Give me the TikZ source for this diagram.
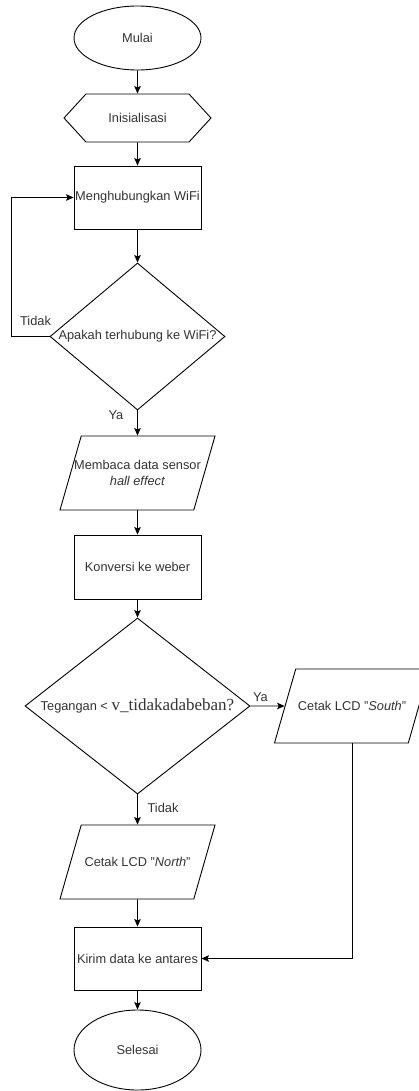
\documentclass[tikz,border=0pt]{standalone}
\usepackage{fontspec}
\setmainfont{Liberation Sans}
\newfontfamily\timesfont{Liberation Serif}
\usetikzlibrary{arrows.meta,shapes.geometric,shapes.symbols}

\begin{document}
\begin{tikzpicture}[>={Stealth[length=7.5pt,width=6.5pt,inset=1.5pt]},x=1pt,y=1pt,line width=0.9pt,
    font=\fontsize{12.8}{16}\selectfont]
  \tikzstyle{every node}=[text=black!80]
  \tikzstyle{terminal}=[ellipse,draw,minimum width=127pt,inner sep=0pt]
  \tikzstyle{prep}=[signal,signal to=west and east,signal pointer angle=95,draw,
    minimum width=147pt,minimum height=48pt,inner sep=0pt]
  \tikzstyle{process}=[rectangle,draw,minimum width=127pt,minimum height=63pt,inner sep=0pt]
  \tikzstyle{decision}=[diamond,draw,inner sep=0pt]
  \tikzstyle{io}=[trapezium,trapezium left angle=74,trapezium right angle=106,
    trapezium stretches body=true,draw,minimum width=155pt,
    text height=41.6pt,text depth=32.4pt,inner sep=0pt,align=center]

  \useasboundingbox (0,0) rectangle (419,-1091);

  \node[terminal,minimum height=64pt] (mulai) at (137.5,-38) {Mulai};
  \node[prep] (init) [below of=mulai,node distance=80pt] {Inisialisasi};
  \node[process] (wifi) [below of=init,node distance=79.5pt] {Menghubungkan WiFi};
  \node[decision,minimum width=175pt,minimum height=147pt] (cek) [below of=wifi,node distance=139pt]
    {\makebox[0pt]{Apakah terhubung ke WiFi?}};
  \node[io,text height=49.6pt,text depth=24.4pt] (baca) [below of=cek,node distance=136.5pt]
    {\makebox[0pt]{Membaca data sensor}\\\makebox[0pt]{\textit{hall effect}}};
  \node[process,minimum height=64pt] (konversi) [below of=baca,node distance=94pt] {Konversi ke weber};
  \node[decision,minimum width=225pt,minimum height=176pt] (tegangan) [below of=konversi,node distance=139pt]
    {\makebox[0pt]{Tegangan < {\timesfont\fontsize{17}{18}\selectfont v\_tidakadabeban?}}};
  \node[io] (south) [right of=tegangan,node distance=214.5pt] {Cetak LCD "\textit{South}"};
  \node[io] (north) [below of=tegangan,node distance=156pt] {Cetak LCD "\textit{North}"};
  \node[process] (kirim) [below of=north,node distance=96.5pt] {Kirim data ke antares};
  \node[terminal,minimum height=80pt] (selesai) [below of=kirim,node distance=91.5pt] {Selesai};

  % labels
  \node (tidak1) at ([xshift=-14pt,yshift=16pt]cek.west) {Tidak};
  \node (ya1) at ([xshift=-21.5pt,yshift=-5pt]cek.south) {Ya};
  \node (ya2) at ([xshift=10pt,yshift=9pt]tegangan.east) {Ya};
  \node (tidak2) at ([xshift=25.5pt,yshift=-13pt]tegangan.south) {Tidak};

  \draw[->] (mulai) -- (init);
  \draw[->] (init) -- (wifi);
  \draw[->] (wifi) -- (cek);
  \draw[->] (cek.west) -- ++(-38,0) |- (wifi.west);
  \draw[->] (cek) -- (baca);
  \draw[->] (baca) -- (konversi);
  \draw[->] (konversi) -- (tegangan);
  \draw[->] (tegangan) -- (south);
  \draw[->] (tegangan) -- (north);
  \draw[->] (north) -- (kirim);
  \draw[->] (south.south) |- (kirim.east);
  \draw[->] (kirim) -- (selesai);

\end{tikzpicture}
\end{document}
